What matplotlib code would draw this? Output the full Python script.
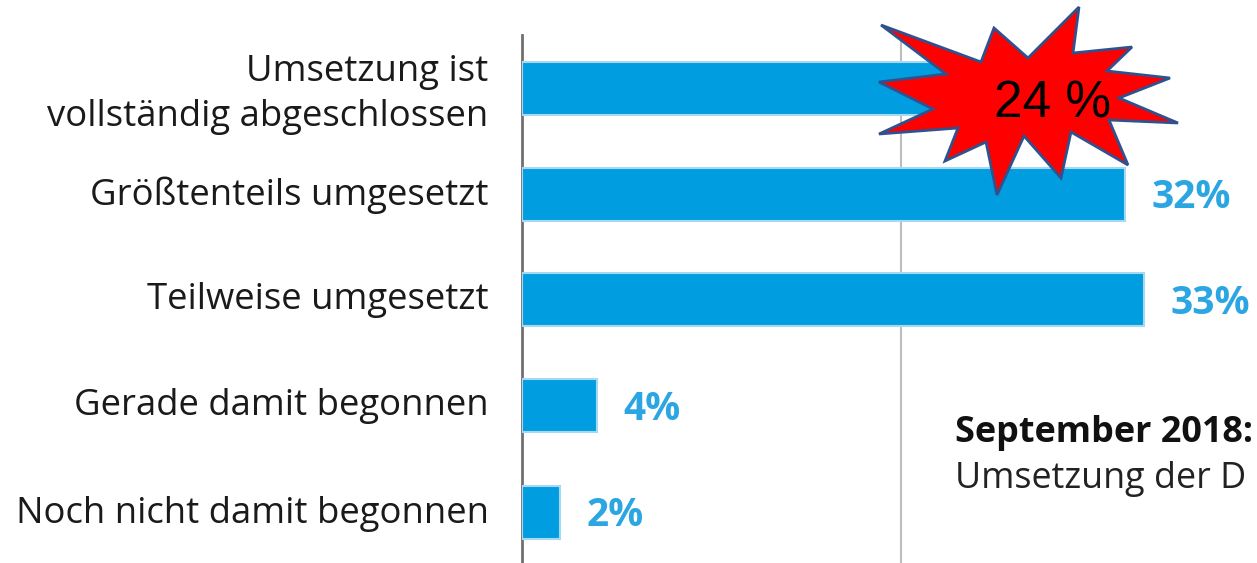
import matplotlib
matplotlib.use("Agg")
import matplotlib.pyplot as plt
from matplotlib.patches import Polygon
from matplotlib.transforms import ScaledTranslation

categories = ["Umsetzung ist\nvollständig abgeschlossen", "Größtenteils umgesetzt", "Teilweise umgesetzt",
              "Gerade damit begonnen", "Noch nicht damit begonnen"]
values = [24, 32, 33, 4, 2]
labels = ["", "32%", "33%", "4%", "2%"]
star_x = [881,946,879,933,879,958,945,986,997,1024,1061,1071,1128,1109,1178,1119,1170,1107,1132,1073,1079,1028,994,981]
star_y = [25,74,82,109,134,128,161,142,195,136,178,132,165,120,123,98,78,71,47,53,7,58,28,62]

plt.rcParams['font.family'] = ['Open Sans', 'DejaVu Sans']
W, H = 1257, 563
fig = plt.figure(figsize=(W/100, H/100), dpi=100)
ax = fig.add_axes([522/W, 0, (W-522)/W, (563-35)/H])
ax.set_xlim(0, (W-522)/18.85)
ax.set_ylim(563-35, 0)
ypos = [88-35, 194-35, 299-35, 405-35, 512-35]
ax.barh(ypos, values, height=53, color="#009EE0", edgecolor="#A8D8F0", linewidth=1.5, zorder=3)
ax.axvline(20.08, color="#BDBDBD", lw=1.5, zorder=1)
for s in ["top", "right", "bottom"]:
    ax.spines[s].set_visible(False)
ax.spines["left"].set_color("#707070")
ax.spines["left"].set_linewidth(2)
ax.set_xticks([])
ax.set_yticks(ypos)
ax.set_yticklabels(categories, fontsize=26.3, color="#1a1a1a", linespacing=1.35)
ax.tick_params(axis="y", length=0, pad=24)
shift = ScaledTranslation(0, 3/100, fig.dpi_scale_trans)
for lab in ax.get_yticklabels():
    lab.set_transform(lab.get_transform() + shift)
for y, v, t in zip(ypos, values, labels):
    if t:
        ax.text(v + 1.4, y + 4, t, color="#2BA6E3", fontsize=28, fontweight="bold", va="center", ha="left", zorder=4)

fig.text(955/W, 1-433/H, "September 2018:", fontsize=25.9, fontweight="bold", color="#111111", va="center")
fig.text(955/W, 1-479/H, "Umsetzung der D", fontsize=25.8, color="#222222", va="center")

fig.add_artist(Polygon([(x/W, 1-y/H) for x, y in zip(star_x, star_y)], closed=True,
                       transform=fig.transFigure, facecolor="#FF0000", edgecolor="#2F528F", linewidth=2, zorder=5))
fig.text(1053/W, 1-104/H, "24 %", fontsize=37, color="black", ha="center", va="center", zorder=6, family="Liberation Sans")
fig.savefig("out.png", dpi=100)
